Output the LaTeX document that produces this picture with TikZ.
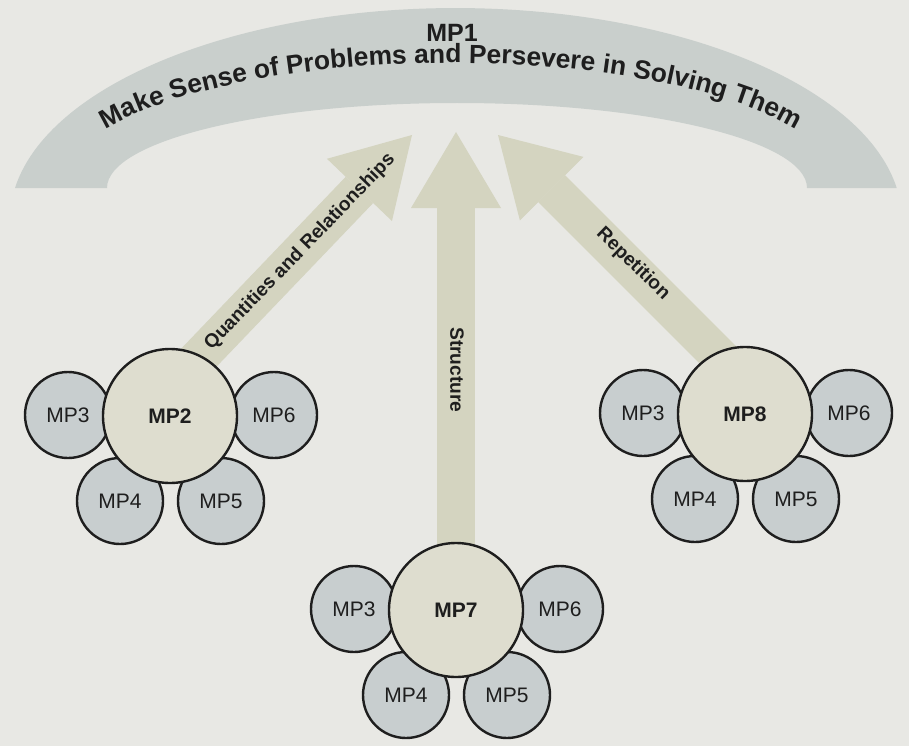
\documentclass[tikz,border=0pt]{standalone}
\usepackage{fontspec}
\setmainfont{Liberation Sans}
\usetikzlibrary{arrows.meta,decorations.text}
\definecolor{pagebg}{RGB}{232,232,228}
\definecolor{bandgray}{RGB}{201,207,204}
\definecolor{arrowtan}{RGB}{212,212,192}
\definecolor{bigfill}{RGB}{222,221,207}
\definecolor{smallfill}{RGB}{200,206,207}
\definecolor{inkgray}{RGB}{30,30,30}

\begin{document}
\begin{tikzpicture}[x=0.5pt, y=0.5pt,
    every node/.style = {inner sep=0pt, text=inkgray},
    bigball/.style = {circle, draw=inkgray, line width=1.2pt, fill=bigfill,
                      minimum size=67pt, font=\bfseries\fontsize{10.5}{12}\selectfont},
    smallball/.style = {circle, draw=inkgray, line width=1.2pt, fill=smallfill,
                        minimum size=43pt, font=\fontsize{10.5}{12}\selectfont},
    flow/.style = {draw=arrowtan, line width=19pt,
                   -{Triangle[length=38pt, width=45pt, line width=0pt]}},
    flowlabel/.style = {font=\bfseries\fontsize{9.6}{11}\selectfont}]

  \fill[pagebg] (0,0) rectangle (909,746);
  \useasboundingbox (0,0) rectangle (909,746);

  % the MP1 band
  \fill[bandgray] (15,558) arc[start angle=171.3, end angle=8.7, x radius=446, y radius=212]
    -- (807,558) arc[start angle=0, end angle=180, x radius=350, y radius=85] -- cycle;
  \node (mp1) at (452,713) {\bfseries\fontsize{12.5}{14}\selectfont MP1};
  \path[decorate, decoration={text along path, text align=center, text color=inkgray,
      text={|\bfseries\fontsize{13.2}{15}\selectfont|Make Sense of Problems and Persevere in Solving Them}}]
    (73.3,590.4) arc[start angle=165, end angle=15, x radius=391, y radius=125];

  \coordinate (c2) at (170,330);
  \coordinate (c7) at (456,136);
  \coordinate (c8) at (745,332);
  \coordinate (qstart) at (143,330);
  \coordinate (qtip) at (412,611);
  \coordinate (stip) at (456,614);
  \coordinate (rstart) at (777,332);
  \coordinate (rtip) at (498,611);

  % arrows up to MP1
  \draw[flow] (qstart) -- (qtip);
  \draw[flow] (c7) -- (stip);
  \draw[flow] (rstart) -- (rtip);
  \node[flowlabel, rotate=46] (qlabel) at (300,494) {Quantities and Relationships};
  \node[flowlabel, rotate=-90] (slabel) at (457,376) {Structure};
  \node[flowlabel, rotate=-44] (rlabel) at (633,482) {Repetition};

  % MP2
  \node[smallball] (mp2-3) at ([shift={(-102,1)}]c2) {MP3};
  \node[smallball] (mp2-6) at ([shift={(104,1)}]c2) {MP6};
  \node[smallball] (mp2-4) at ([shift={(-50,-85)}]c2) {MP4};
  \node[smallball] (mp2-5) at ([shift={(51,-85)}]c2) {MP5};
  \node[bigball] (mp2) at (c2) {MP2};

  % MP8
  \node[smallball] (mp8-3) at ([shift={(-102,1)}]c8) {MP3};
  \node[smallball] (mp8-6) at ([shift={(104,1)}]c8) {MP6};
  \node[smallball] (mp8-4) at ([shift={(-50,-85)}]c8) {MP4};
  \node[smallball] (mp8-5) at ([shift={(51,-85)}]c8) {MP5};
  \node[bigball] (mp8) at (c8) {MP8};

  % MP7
  \node[smallball] (mp7-3) at ([shift={(-102,1)}]c7) {MP3};
  \node[smallball] (mp7-6) at ([shift={(104,1)}]c7) {MP6};
  \node[smallball] (mp7-4) at ([shift={(-50,-85)}]c7) {MP4};
  \node[smallball] (mp7-5) at ([shift={(51,-85)}]c7) {MP5};
  \node[bigball] (mp7) at (c7) {MP7};
\end{tikzpicture}
\end{document}
